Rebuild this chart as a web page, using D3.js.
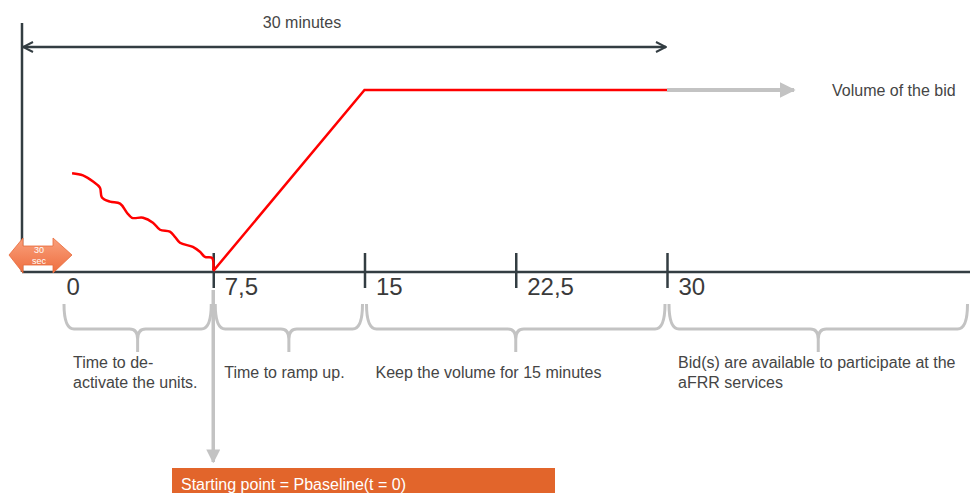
<!DOCTYPE html>
<html>
<head>
<meta charset="utf-8">
<script src="https://cdn.jsdelivr.net/npm/d3@7"></script>
<style>
  body { margin: 0; background: #fff; }
  svg { display: block; font-family: "Liberation Sans", Arial, sans-serif; }
</style>
</head>
<body>
<div id="chart"></div>
<script>
// time in minutes, volume in % of the bid
var tickValues = [0, 7.5, 15, 22.5, 30];
var tickLabels = ["0", "7,5", "15", "22,5", "30"];

// red trace before t = 7.5 (de-activation of the units)
var waveTime = [0.5, 1.04, 1.54, 1.88, 1.98, 2.38, 2.88, 3.22, 3.47, 4.02, 4.51, 4.86, 5.35, 5.6, 5.85, 6.49, 6.84, 7.09, 7.44, 7.5];
var waveVolume = [54, 52.8, 49.4, 46.1, 40.6, 38.3, 37.2, 32.2, 29.4, 29.4, 26.7, 22.8, 21.7, 18.9, 15.6, 13.3, 10.6, 7.8, 7.2, 0.5];

// ramp and hold of the bid
var rampTime = [7.5, 15, 30];
var rampVolume = [0, 100, 100];
var volumeArrowEnd = 36.3;

// brackets under the axis
var braceFrom = [0, 7.5, 15, 30];
var braceTo = [7.5, 15, 30, 45];
var braceLabels = [
  ["Time to de-", "activate the units."],
  ["Time to ramp up."],
  ["Keep the volume for 15 minutes"],
  ["Bid(s) are available to participate at the", "aFRR services"]
];

var width = 970, height = 493;
var dark = "#333d42", grey = "#c3c3c3", textCol = "#454545";

var svg = d3.select("#chart").append("svg")
    .attr("width", width)
    .attr("height", height);

var x = d3.scaleLinear().domain([0, 30]).range([62, 667]);
var y = d3.scaleLinear().domain([0, 100]).range([271, 90]);
var axisY = 272, axisX = 22;

var defs = svg.append("defs");
defs.append("marker")
    .attr("id", "chev")
    .attr("viewBox", "0 0 10 10")
    .attr("refX", 9).attr("refY", 5)
    .attr("markerWidth", 5).attr("markerHeight", 5)
    .attr("markerUnits", "strokeWidth")
    .attr("orient", "auto-start-reverse")
    .append("path")
    .attr("d", "M1,1 L9,5 L1,9")
    .attr("fill", "none")
    .attr("stroke", dark)
    .attr("stroke-width", 1.6);
defs.append("marker")
    .attr("id", "greyHead")
    .attr("viewBox", "0 0 10 10")
    .attr("refX", 9).attr("refY", 5)
    .attr("markerWidth", 4).attr("markerHeight", 4)
    .attr("markerUnits", "strokeWidth")
    .attr("orient", "auto")
    .append("path")
    .attr("d", "M0,0 L10,5 L0,10 Z")
    .attr("fill", grey);
var grad = defs.append("linearGradient")
    .attr("id", "orangeGrad")
    .attr("x1", 0).attr("y1", 0).attr("x2", 0).attr("y2", 1);
grad.append("stop").attr("offset", "0%").attr("stop-color", "#f9a07c");
grad.append("stop").attr("offset", "100%").attr("stop-color", "#ee6e3f");

// 30 minutes span
svg.append("line")
    .attr("x1", axisX + 1).attr("x2", x(30) - 1)
    .attr("y1", 47).attr("y2", 47)
    .attr("stroke", dark).attr("stroke-width", 2.5)
    .attr("marker-start", "url(#chev)")
    .attr("marker-end", "url(#chev)");
svg.append("text")
    .attr("x", 302).attr("y", 28)
    .attr("text-anchor", "middle")
    .attr("font-size", 16)
    .attr("fill", textCol)
    .text("30 minutes");

// axes lines
svg.append("line")
    .attr("x1", axisX).attr("x2", axisX)
    .attr("y1", 23).attr("y2", axisY)
    .attr("stroke", dark).attr("stroke-width", 2.5);
svg.append("line")
    .attr("x1", axisX).attr("x2", width)
    .attr("y1", axisY).attr("y2", axisY)
    .attr("stroke", dark).attr("stroke-width", 2.5);

var xAxis = d3.axisBottom(x)
    .tickValues(tickValues)
    .tickFormat(function(d, i) { return tickLabels[i]; })
    .tickSize(0);
var gx = svg.append("g")
    .attr("transform", "translate(0," + axisY + ")")
    .call(xAxis);
gx.select(".domain").remove();
gx.selectAll(".tick line")
    .attr("y1", -19).attr("y2", 16)
    .attr("stroke", dark).attr("stroke-width", 2.5)
    .attr("display", function(d) { return d === 0 ? "none" : null; });
gx.selectAll(".tick text")
    .attr("text-anchor", "start")
    .attr("x", function(d) { return d === 0 ? 4 : 11; })
    .attr("y", 23)
    .attr("dy", 0)
    .attr("font-family", "'Liberation Sans', Arial, sans-serif")
    .attr("font-size", 24)
    .attr("fill", "#3a3a3a");

// grey extension of the volume
svg.append("line")
    .attr("x1", x(30)).attr("x2", x(volumeArrowEnd))
    .attr("y1", y(100)).attr("y2", y(100))
    .attr("stroke", grey).attr("stroke-width", 4)
    .attr("marker-end", "url(#greyHead)");
svg.append("text")
    .attr("x", 832).attr("y", y(100) + 6)
    .attr("font-size", 16)
    .attr("fill", textCol)
    .text("Volume of the bid");

// red traces
var waveData = waveTime.map(function(t, i) { return [t, waveVolume[i]]; });
var rampData = rampTime.map(function(t, i) { return [t, rampVolume[i]]; });

svg.append("path")
    .datum(waveData)
    .attr("d", d3.line()
        .x(function(d) { return x(d[0]); })
        .y(function(d) { return y(d[1]); })
        .curve(d3.curveCatmullRom.alpha(0.5)))
    .attr("fill", "none")
    .attr("stroke", "#ff0000")
    .attr("stroke-width", 2.5);

svg.append("path")
    .datum(rampData)
    .attr("d", d3.line()
        .x(function(d) { return x(d[0]); })
        .y(function(d) { return y(d[1]); }))
    .attr("fill", "none")
    .attr("stroke", "#ff0000")
    .attr("stroke-width", 2.5);

// braces
var braceTop = 304, braceMid = 329, braceTip = 352;
svg.selectAll(".brace")
    .data(braceFrom)
    .enter().append("path")
    .attr("class", "brace")
    .attr("d", function(d, i) {
        var x0 = x(d) + 2, x1 = x(braceTo[i]) - 2, xm = (x0 + x1) / 2;
        return "M" + x0 + "," + braceTop +
            " Q" + x0 + "," + braceMid + " " + (x0 + 10) + "," + braceMid +
            " L" + (xm - 8) + "," + braceMid +
            " Q" + xm + "," + braceMid + " " + xm + "," + (braceMid + 10) +
            " L" + xm + "," + braceTip +
            " M" + xm + "," + (braceMid + 10) +
            " Q" + xm + "," + braceMid + " " + (xm + 8) + "," + braceMid +
            " L" + (x1 - 10) + "," + braceMid +
            " Q" + x1 + "," + braceMid + " " + x1 + "," + braceTop;
    })
    .attr("fill", "none")
    .attr("stroke", grey)
    .attr("stroke-width", 3);

svg.selectAll(".braceLabel")
    .data(braceFrom)
    .enter().append("text")
    .attr("class", "braceLabel")
    .attr("x", function(d) { return x(d) + 11; })
    .attr("y", function(d, i) { return braceLabels[i].length > 1 ? 368 : 378; })
    .attr("font-size", 16)
    .attr("fill", textCol)
    .each(function(d, i) {
        var t = d3.select(this);
        braceLabels[i].forEach(function(s, k) {
            t.append("tspan")
                .attr("x", x(d) + 11)
                .attr("dy", k === 0 ? 0 : 19.5)
                .text(s);
        });
    });

// arrow down to the starting point
svg.append("line")
    .attr("x1", x(7.5)).attr("x2", x(7.5))
    .attr("y1", 290).attr("y2", 462)
    .attr("stroke", grey).attr("stroke-width", 3.5)
    .attr("marker-end", "url(#greyHead)");

svg.append("rect")
    .attr("x", 172).attr("y", 468)
    .attr("width", 383).attr("height", 30)
    .attr("fill", "#e2652b");
svg.append("text")
    .attr("x", 181).attr("y", 490)
    .attr("font-size", 16)
    .attr("fill", "#ffffff")
    .text("Starting point = Pbaseline(t = 0)");

// 30 sec double arrow
var secArrow = svg.append("g");
secArrow.append("path")
    .attr("d", "M9,255 L23,238 L23,246 L53,246 L53,238 L72,255 L53,273 L53,265 L23,265 L23,273 Z")
    .attr("fill", "url(#orangeGrad)")
    .attr("stroke", "#e8693a")
    .attr("stroke-width", 0.8);
secArrow.append("text")
    .attr("x", 39).attr("y", 253)
    .attr("text-anchor", "middle")
    .attr("font-size", 9)
    .attr("fill", "#fff")
    .text("30");
secArrow.append("text")
    .attr("x", 39).attr("y", 264)
    .attr("text-anchor", "middle")
    .attr("font-size", 9)
    .attr("fill", "#fff")
    .text("sec");
</script>
</body>
</html>
